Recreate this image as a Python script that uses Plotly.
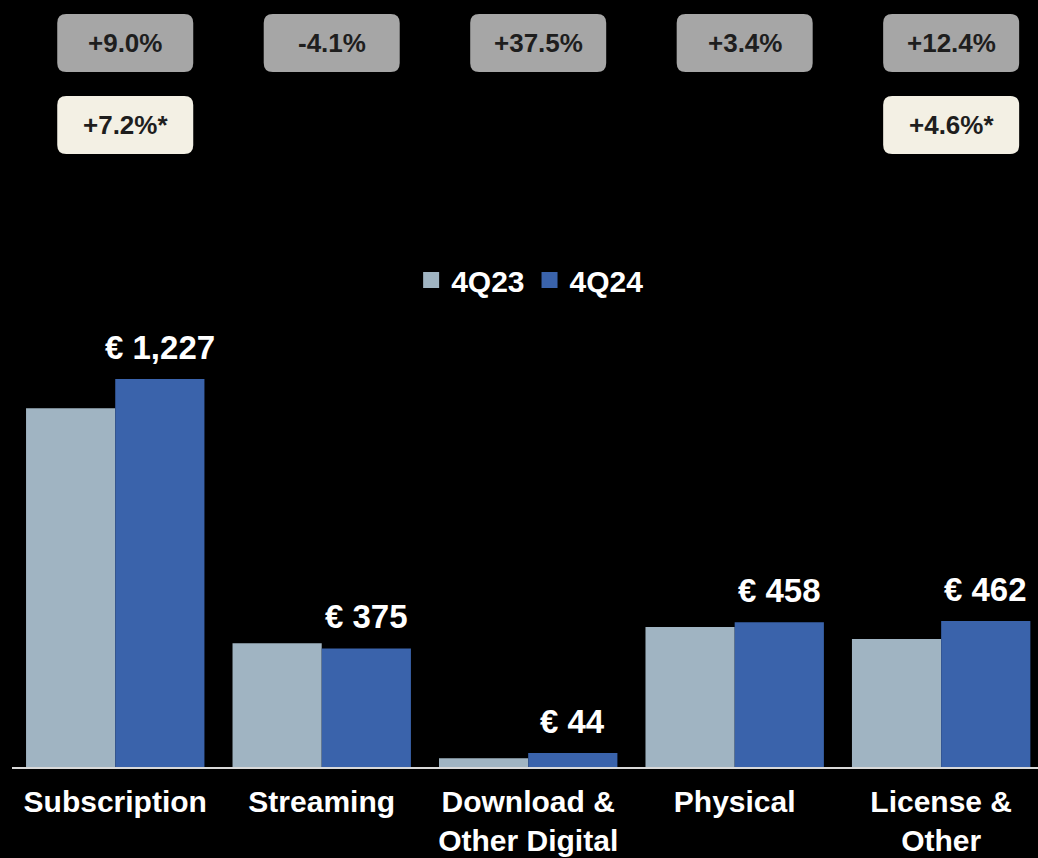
import plotly.graph_objects as go

# Revenue by format (EUR millions)
categories = ["Subscription", "Streaming", "Download &<br>Other Digital", "Physical", "License &<br>Other"]
periods = ["4Q23", "4Q24"]
rev_4q23 = [1135, 391, 28, 443, 405]
rev_4q24 = [1227, 375, 44, 458, 462]
growth_reported = ["+9.0%", "-4.1%", "+37.5%", "+3.4%", "+12.4%"]
growth_constant = ["+7.2%*", None, None, None, "+4.6%*"]

COLOR_PREV = "#a0b4c2"
COLOR_CURR = "#3a63ab"
BOX_GREY = "#a6a6a6"
BOX_CREAM = "#f3f0e4"
FONT = "Liberation Sans, Arial, sans-serif"

BARGAP = 0.136
X_MAX = 4.469
Y_MAX = 1477

fig = go.Figure()
for name, vals, col in [(periods[0], rev_4q23, COLOR_PREV), (periods[1], rev_4q24, COLOR_CURR)]:
    fig.add_trace(go.Bar(name=name, x=categories, y=vals, marker_color=col,
                         marker_line_width=0, hoverinfo="skip", showlegend=False))
    # legend entry drawn with a larger square swatch
    fig.add_trace(go.Scatter(name=name, x=[None], y=[None], mode="markers",
                             marker=dict(symbol="square", size=16, color=col),
                             hoverinfo="skip"))

# value labels over the 4Q24 bars
curr_offset = (1 - BARGAP) / 4
annotations = []
for i, v in enumerate(rev_4q24):
    annotations.append(dict(
        x=i + curr_offset, y=v, xref="x", yref="y",
        text=f"<b>€ {v:,}</b>", showarrow=False,
        yanchor="bottom", yshift=11,
        font=dict(family=FONT, size=33, color="white"),
    ))


def rounded_box(w, h, r, cx):
    x0, x1 = cx - w / 2, cx + w / 2
    y0, y1 = -h / 2, h / 2
    return (f"M{x0 + r},{y0} L{x1 - r},{y0} Q{x1},{y0} {x1},{y0 + r} "
            f"L{x1},{y1 - r} Q{x1},{y1} {x1 - r},{y1} L{x0 + r},{y1} "
            f"Q{x0},{y1} {x0},{y1 - r} L{x0},{y0 + r} Q{x0},{y0} {x0 + r},{y0} Z")


# growth badges above the chart
plot_h = 858 - 300 - 91
ROW1_Y = (767 - 43) / plot_h
ROW2_Y = (767 - 125) / plot_h
BADGE_DX = 10
shapes = []
for row_y, labels, fill in [(ROW1_Y, growth_reported, BOX_GREY),
                            (ROW2_Y, growth_constant, BOX_CREAM)]:
    for i, lab in enumerate(labels):
        if lab is None:
            continue
        shapes.append(dict(
            type="path", xref="x", yref="paper",
            xsizemode="pixel", ysizemode="pixel",
            xanchor=i, yanchor=row_y,
            path=rounded_box(136, 58, 9, BADGE_DX),
            fillcolor=fill, line=dict(width=0), layer="above",
        ))
        annotations.append(dict(
            x=i, y=row_y, xref="x", yref="paper", xshift=BADGE_DX,
            text=f"<b>{lab}</b>", showarrow=False,
            xanchor="center", yanchor="middle",
            font=dict(family=FONT, size=26, color="#1e1e1e"),
        ))

fig.update_layout(
    width=1038, height=858,
    margin=dict(l=12, r=0, t=300, b=91),
    paper_bgcolor="black", plot_bgcolor="black",
    barmode="group", bargap=BARGAP, bargroupgap=0,
    font=dict(family=FONT, color="white"),
    showlegend=True,
    legend=dict(
        orientation="h", x=0.505, xanchor="center", y=(767 - 280) / plot_h, yanchor="middle",
        font=dict(family=FONT, size=30, color="white", weight="bold"),
        bgcolor="rgba(0,0,0,0)", itemclick=False, itemdoubleclick=False,
        itemwidth=30,
    ),
    xaxis=dict(
        range=[-0.5, X_MAX], showline=True, linecolor="#d9d9d9", linewidth=2,
        showgrid=False, zeroline=False, ticks="", ticklabelstandoff=7, automargin=False,
        tickfont=dict(family=FONT, size=30, color="white", weight="bold"),
        fixedrange=True,
    ),
    yaxis=dict(range=[0, Y_MAX], visible=False, showgrid=False, zeroline=False,
               automargin=False, fixedrange=True),
    shapes=shapes,
    annotations=annotations,
)

fig.write_html("out.html", config={"displayModeBar": False})
